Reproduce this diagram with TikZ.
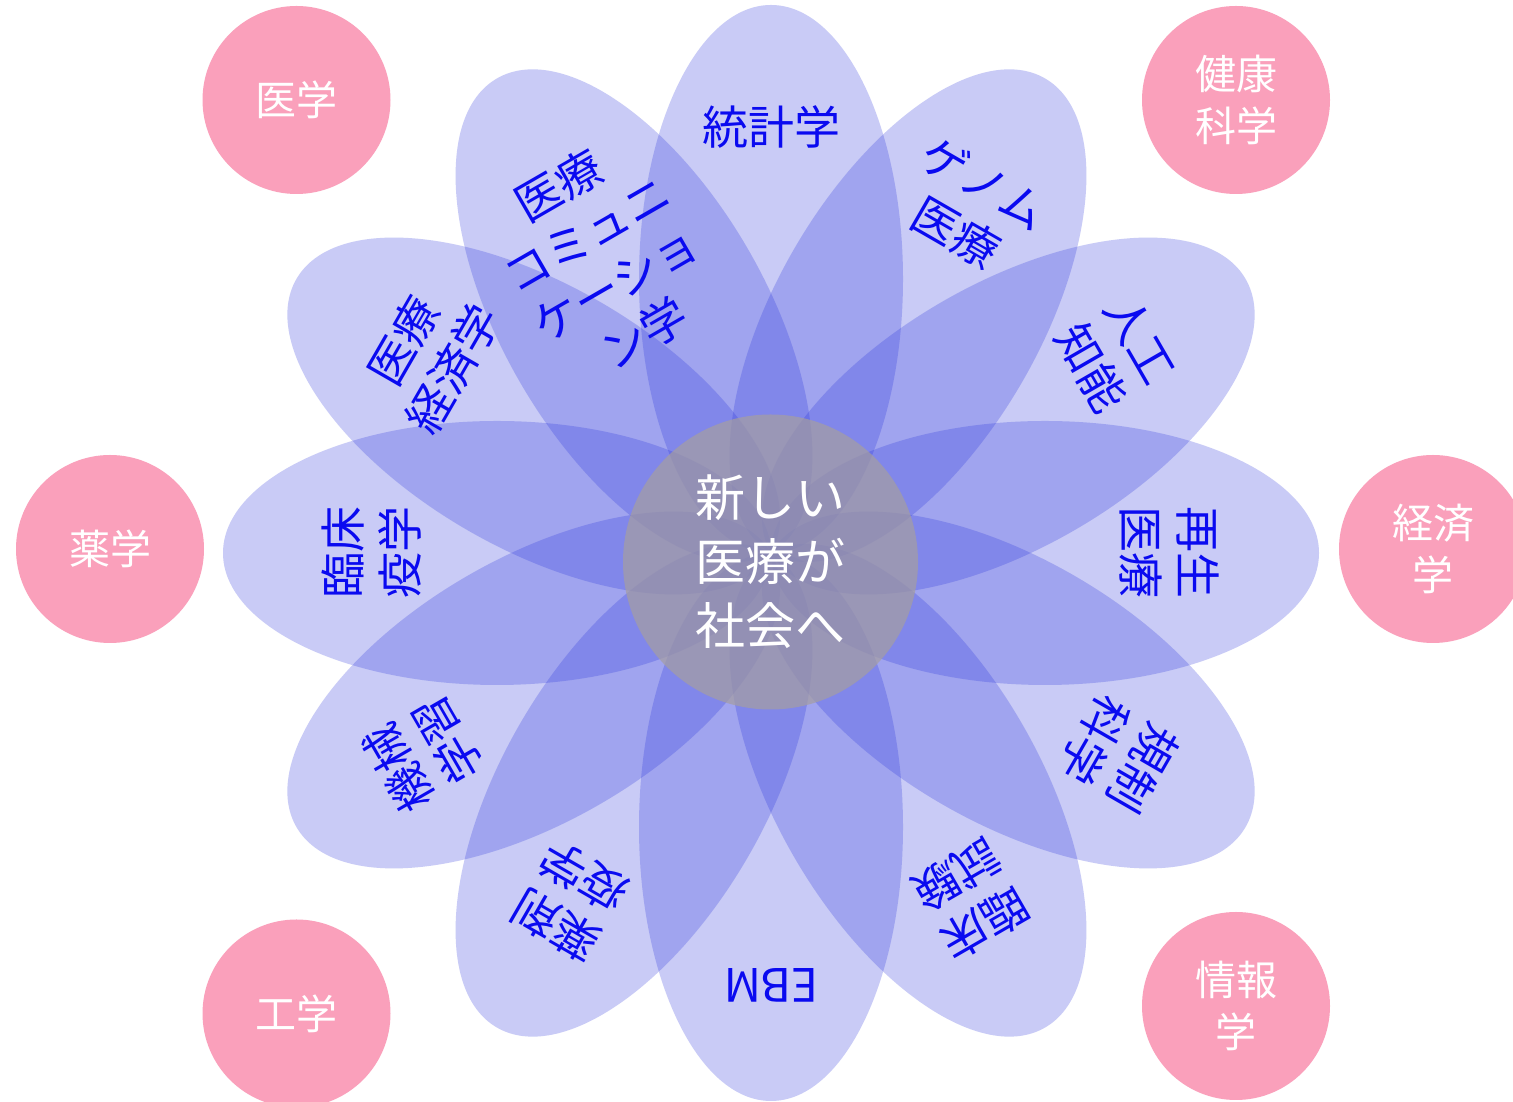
\documentclass[tikz,border=0pt]{standalone}
\usepackage{fontspec}
\setmainfont{Noto Sans CJK JP}
\definecolor{petalblue}{RGB}{40,50,220}
\definecolor{pinkfill}{RGB}{250,160,187}
\definecolor{labelblue}{RGB}{10,10,240}
\definecolor{hubgray}{RGB}{165,158,160}
\tikzset{
  petal/.style={fill=petalblue, fill opacity=0.25},
  plabel/.style={text=labelblue, font=\fontsize{46pt}{57pt}\selectfont, align=center, inner sep=0pt},
  field/.style={circle, fill=pinkfill, minimum size=188pt, inner sep=0pt, text=white,
    font=\fontsize{41pt}{52pt}\selectfont, align=center},
  hub/.style={circle, fill=hubgray, fill opacity=0.7, text opacity=1, text=white,
    minimum size=295pt, inner sep=0pt, font=\fontsize{50pt}{64pt}\selectfont, align=center}
}
\begin{document}
\begin{tikzpicture}[x=1pt,y=1pt]
\clip (0,0) rectangle (1513,1102);
\fill[white] (0,0) rectangle (1513,1102);
% petals
\begin{scope}[shift={(771,549)}]
  \foreach \a in {0,30,...,330}{
    \fill[petal, rotate=\a] (274,0) ellipse [x radius=274pt, y radius=132pt];
  }
\end{scope}
% hub
\node[hub] (hub) at (770.5,540) {新しい\\医療が\\社会へ};
% petal labels
\begin{scope}[shift={(771,549)}]
  \node[plabel] (stat) at (90:426) {統計学};
  \node[plabel, rotate=-30] (genome) at (60:398) {ゲノム\\医療};
  \node[plabel, rotate=-60] (ai) at (30:398) {人工\\知能};
  \node[plabel, rotate=-90] (regen) at (0:398) {再生\\医療};
  \node[plabel, rotate=-120] (regsci) at (-30:402) {規制\\科学};
  \node[plabel, rotate=-150] (trial) at (-60:400) {臨床\\試験};
  \node[plabel, rotate=180] (ebm) at (-90:432) {EBM};
  \node[plabel, rotate=150] (pharmepi) at (-120:402) {薬剤\\疫学};
  \node[plabel, rotate=120] (ml) at (-150:402) {機械\\学習};
  \node[plabel, rotate=90] (clinepi) at (180:399) {臨床\\疫学};
  \node[plabel, rotate=60] (healthecon) at (150:396) {医療\\経済学};
  \node[plabel, rotate=30] (comm) at (120:339) {医療\\コミュニ\\ケーショ\\ン学};
\end{scope}
% surrounding fields
\node[field] (igaku) at (296.5,1002) {医学};
\node[field] (kenko) at (1236,1002) {健康\\科学};
\node[field] (yakugaku) at (110,553) {薬学};
\node[field] (keizai) at (1433,553) {経済\\学};
\node[field] (kogaku) at (296.5,88.5) {工学};
\node[field] (joho) at (1236,96) {情報\\学};
\end{tikzpicture}
\end{document}
